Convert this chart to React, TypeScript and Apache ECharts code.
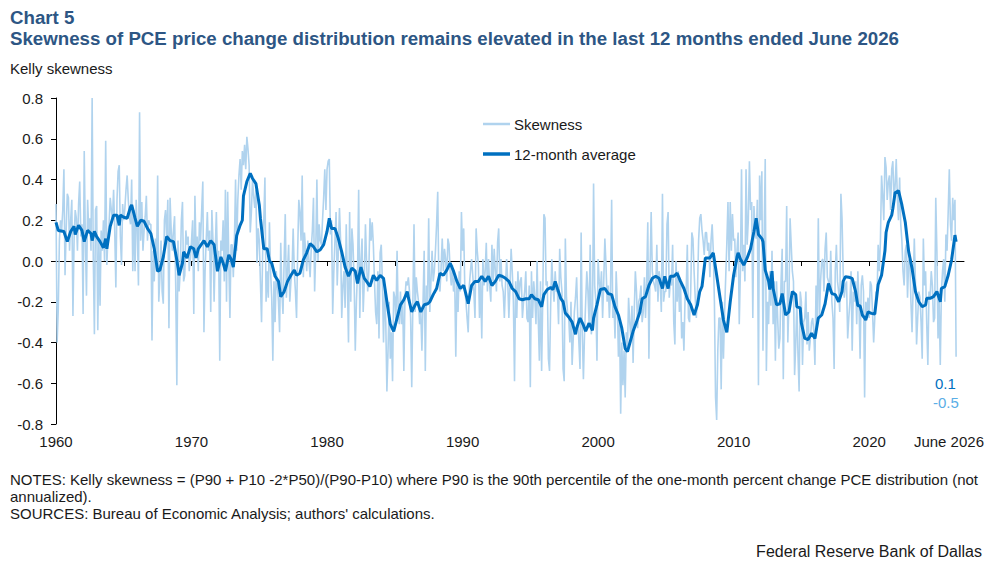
import React, { useEffect, useRef } from "react";
import * as echarts from "echarts";

const FONT = "'Liberation Sans', Arial, Helvetica, sans-serif";

// Monthly Kelly skewness, Jan 1960 .. Jun 2026 (one row per year)
const skewness: number[] = [
  0.28, -0.4, -0.24, 0.1, 0.2, 0.15, 0.25, 0.45, -0.07, 0.15, 0.33, 0.31, // 1960
  0.05, 0.2, 0.3, -0.27, 0.1, 0.25, 0.21, 0.05, 0.28, 0.39, 0.12, 0.18, // 1961
  -0.26, 0.54, 0.1, -0.17, 0.3, 0.15, 0.21, 0.05, 0.8, 0.02, -0.36, 0.25, // 1962
  0.27, -0.34, 0.1, -0.22, 0.15, 0.05, 0.2, 0.0, 0.59, -0.02, 0.12, 0.18, // 1963
  0.31, 0.25, 0.2, 0.35, 0.15, -0.13, 0.3, 0.44, 0.47, 0.12, -0.02, 0.28, // 1964
  0.2, 0.26, 0.35, 0.42, 0.3, 0.22, 0.18, 0.4, -0.05, 0.25, -0.05, 0.3, // 1965
  0.15, -0.12, 0.73, 0.1, 0.29, 0.05, 0.15, 0.22, 0.32, 0.1, 0.2, 0.18, // 1966
  0.18, -0.39, 0.05, -0.1, 0.11, -0.05, 0.42, -0.2, -0.08, 0.1, -0.15, -0.21, // 1967
  0.2, 0.25, 0.11, 0.3, -0.33, 0.31, 0.15, 0.05, 0.15, 0.22, -0.12, -0.61, // 1968
  0.1, -0.15, -0.05, 0.2, 0.29, -0.1, -0.07, 0.15, 0.08, 0.12, -0.05, 0.01, // 1969
  0.1, 0.2, -0.26, 0.32, 0.05, 0.12, -0.05, 0.19, 0.1, 0.25, 0.39, -0.35, // 1970
  -0.05, 0.1, 0.24, 0.05, 0.15, -0.25, 0.25, 0.1, -0.2, 0.05, 0.24, -0.02, // 1971
  0.05, -0.49, 0.1, 0.05, 0.2, -0.1, 0.35, -0.2, 0.34, 0.0, -0.28, 0.08, // 1972
  0.08, -0.08, 0.1, 0.4, 0.05, 0.3, 0.42, 0.5, 0.35, 0.54, 0.47, 0.57, // 1973
  0.45, 0.61, 0.55, 0.47, 0.14, 0.24, 0.4, 0.32, 0.26, 0.35, -0.01, 0.16, // 1974
  0.1, -0.1, -0.3, 0.05, 0.2, 0.41, -0.2, -0.05, -0.18, 0.19, -0.05, -0.18, // 1975
  -0.49, -0.1, -0.3, -0.05, -0.12, -0.2, -0.35, 0.09, -0.15, -0.26, 0.0, 0.23, // 1976
  -0.18, -0.05, 0.08, -0.2, -0.1, -0.05, 0.16, -0.05, -0.15, -0.28, 0.05, 0.3, // 1977
  0.24, 0.1, 0.42, -0.08, 0.14, 0.05, -0.05, 0.1, 0.0, -0.08, 0.06, 0.15, // 1978
  0.31, -0.15, 0.05, 0.4, 0.0, 0.18, 0.1, 0.08, 0.2, 0.31, 0.45, 0.25, // 1979
  0.45, 0.49, 0.5, 0.13, 0.2, -0.26, -0.05, 0.1, 0.24, -0.12, 0.05, 0.26, // 1980
  0.1, -0.28, -0.12, -0.05, -0.23, 0.18, -0.1, -0.4, 0.24, -0.2, 0.16, 0.08, // 1981
  -0.1, -0.44, -0.2, -0.05, 0.35, -0.28, 0.0, 0.11, -0.25, -0.1, 0.18, 0.0, // 1982
  -0.15, -0.05, 0.21, 0.1, 0.19, 0.08, -0.1, -0.25, -0.31, -0.05, -0.38, 0.04, // 1983
  0.08, -0.1, -0.4, -0.15, -0.3, -0.64, -0.44, -0.2, -0.48, -0.35, -0.59, -0.15, // 1984
  -0.18, -0.3, 0.05, -0.25, -0.31, -0.15, -0.31, -0.2, -0.54, -0.18, -0.1, -0.12, // 1985
  -0.08, -0.15, -0.28, -0.62, -0.2, 0.18, -0.25, -0.08, -0.15, -0.2, -0.31, -0.25, // 1986
  -0.44, -0.2, 0.05, -0.54, -0.12, -0.2, 0.21, -0.25, -0.1, 0.05, -0.1, -0.05, // 1987
  0.05, 0.18, 0.34, -0.1, -0.15, -0.03, 0.11, -0.05, 0.06, 0.01, -0.1, 0.11, // 1988
  0.08, -0.05, -0.12, -0.02, -0.15, -0.08, -0.47, -0.1, -0.25, -0.05, -0.15, 0.24, // 1989
  0.05, 0.16, -0.14, -0.2, -0.28, -0.35, -0.12, -0.05, 0.01, -0.07, -0.15, -0.28, // 1990
  0.16, 0.05, -0.02, -0.28, -0.1, -0.38, 0.01, -0.12, -0.05, 0.09, -0.15, 0.01, // 1991
  -0.12, -0.2, 0.08, -0.1, 0.06, -0.05, -0.15, 0.09, 0.16, -0.1, 0.01, -0.12, // 1992
  -0.15, -0.28, -0.12, 0.01, -0.1, -0.28, -0.12, 0.06, -0.05, -0.2, -0.59, -0.1, // 1993
  -0.28, -0.05, -0.18, -0.1, -0.08, -0.28, -0.2, -0.15, -0.05, -0.28, -0.3, -0.12, // 1994
  -0.62, -0.05, -0.28, -0.1, -0.18, -0.31, 0.0, -0.28, -0.49, -0.1, -0.54, -0.18, // 1995
  0.23, 0.21, -0.12, -0.1, -0.48, -0.54, -0.22, 0.01, -0.12, -0.2, -0.05, -0.15, // 1996
  -0.15, -0.31, 0.06, -0.08, -0.15, -0.53, -0.59, 0.11, -0.18, -0.25, -0.28, -0.4, // 1997
  -0.2, -0.51, -0.38, -0.25, -0.18, -0.08, -0.28, -0.4, -0.53, 0.14, -0.35, -0.58, // 1998
  -0.36, -0.2, -0.05, -0.15, -0.3, 0.08, -0.36, -0.3, 0.38, -0.12, -0.2, -0.49, // 1999
  0.01, -0.1, -0.15, -0.05, -0.28, -0.1, 0.11, -0.02, -0.2, -0.12, -0.28, -0.15, // 2000
  0.3, -0.28, -0.2, -0.38, -0.05, -0.2, -0.47, -0.3, -0.75, -0.4, -0.61, -0.44, // 2001
  -0.67, -0.35, -0.44, -0.18, -0.3, -0.38, -0.22, -0.5, -0.25, -0.05, -0.15, -0.33, // 2002
  -0.2, -0.18, -0.12, -0.3, -0.25, -0.08, -0.28, -0.1, 0.19, -0.48, -0.05, 0.24, // 2003
  -0.05, -0.1, -0.12, -0.15, 0.08, -0.2, -0.05, -0.1, -0.25, 0.33, -0.2, -0.15, // 2004
  -0.15, 0.18, 0.24, -0.18, -0.1, -0.12, 0.08, -0.3, -0.41, 0.0, -0.2, -0.05, // 2005
  -0.25, -0.1, -0.38, -0.3, -0.44, -0.18, -0.15, 0.08, -0.28, -0.3, -0.15, 0.14, // 2006
  0.11, -0.05, -0.18, -0.28, -0.15, 0.1, 0.21, 0.23, 0.15, 0.1, 0.03, 0.14, // 2007
  0.14, 0.05, 0.09, -0.08, 0.1, 0.18, 0.05, -0.2, -0.67, -0.78, -0.44, -0.28, // 2008
  -0.28, -0.63, -0.2, -0.48, -0.25, -0.08, 0.09, 0.29, -0.05, 0.29, 0.05, 0.23, // 2009
  0.1, 0.11, -0.08, 0.05, 0.14, -0.31, -0.05, 0.45, -0.05, 0.08, -0.1, 0.45, // 2010
  0.08, 0.2, 0.49, 0.25, 0.29, -0.28, 0.27, 0.15, 0.11, 0.3, -0.61, 0.42, // 2011
  0.2, 0.44, -0.44, 0.1, 0.5, -0.54, -0.2, -0.31, -0.05, -0.22, 0.05, -0.31, // 2012
  -0.1, -0.49, -0.1, -0.28, -0.43, -0.38, -0.1, 0.06, -0.58, -0.1, -0.1, 0.27, // 2013
  -0.4, -0.2, 0.21, 0.08, -0.05, -0.1, -0.56, -0.41, -0.2, -0.46, -0.64, -0.15, // 2014
  -0.2, -0.51, -0.3, -0.28, -0.15, -0.41, -0.25, -0.44, -0.38, -0.3, -0.28, -0.35, // 2015
  -0.51, -0.12, -0.3, 0.21, -0.28, -0.1, 0.0, 0.01, -0.15, 0.06, 0.14, -0.08, // 2016
  -0.1, -0.15, 0.05, -0.2, -0.28, -0.53, -0.05, 0.08, -0.1, -0.15, -0.25, 0.33, // 2017
  0.21, -0.05, -0.18, -0.12, -0.1, -0.38, -0.28, -0.2, -0.05, -0.44, -0.15, -0.2, // 2018
  -0.1, -0.31, -0.05, -0.2, -0.48, -0.12, -0.07, -0.15, -0.67, -0.2, -0.25, -0.18, // 2019
  -0.28, -0.1, -0.12, -0.25, -0.4, -0.28, -0.15, -0.18, 0.08, -0.05, 0.1, 0.42, // 2020
  0.32, 0.2, 0.51, 0.46, 0.3, 0.39, 0.42, 0.25, 0.45, 0.49, 0.3, 0.37, // 2021
  0.5, 0.31, 0.2, 0.41, 0.18, 0.1, -0.05, -0.12, 0.05, 0.08, -0.18, 0.0, // 2022
  0.01, -0.2, -0.35, -0.12, 0.11, -0.1, -0.41, -0.28, -0.15, -0.18, -0.3, -0.48, // 2023
  0.11, -0.12, -0.05, -0.31, -0.51, -0.15, -0.18, -0.05, -0.12, -0.3, -0.28, 0.31, // 2024
  0.05, -0.38, -0.2, -0.51, -0.15, -0.05, 0.01, -0.2, 0.13, 0.05, 0.24, 0.45, // 2025
  0.18, 0.1, 0.31, 0.2, 0.3, -0.47, // 2026 (Jan-Jun)
];

// 12-month average, read at the months (0 = Jan 1960) where it could be read
const avgMonths: number[] = [
  0, 2, 7, 10, 13, 16, 17, 20, 23, 25, 28, 31, 32, 34, 36, 39, 42, 44, 45, 48,
  51, 54, 56, 57, 60, 63, 66, 67, 70, 72, 75, 78, 81, 84, 87, 90, 92, 95, 98, 101,
  104, 107, 109, 112, 113, 116, 119, 122, 124, 126, 131, 134, 137, 140, 143, 146, 148, 150, 153, 155,
  157, 160, 163, 165, 166, 169, 172, 174, 177, 180, 181, 184, 187, 189, 191, 194, 197, 199, 202, 205,
  208, 211, 213, 216, 219, 222, 225, 228, 231, 234, 237, 240, 242, 244, 247, 250, 253, 256, 259, 262,
  265, 267, 270, 273, 275, 278, 281, 284, 287, 290, 293, 296, 299, 302, 305, 308, 311, 312, 315, 318,
  320, 323, 326, 329, 331, 334, 337, 340, 343, 346, 349, 352, 355, 358, 361, 364, 365, 368, 371, 374,
  377, 380, 383, 386, 389, 392, 395, 398, 401, 404, 407, 410, 413, 416, 419, 421, 424, 427, 430, 432,
  435, 438, 440, 442, 444, 447, 449, 451, 454, 457, 460, 461, 464, 467, 469, 472, 475, 476, 479, 482,
  486, 489, 492, 495, 498, 501, 504, 506, 508, 511, 514, 517, 519, 522, 525, 528, 531, 534, 537, 539,
  542, 544, 547, 550, 553, 556, 559, 562, 565, 568, 570, 572, 575, 579, 582, 585, 588, 591, 594, 597,
  600, 603, 604, 606, 609, 612, 615, 618, 620, 622, 625, 626, 628, 631, 632, 634, 635, 638, 641, 643,
  646, 649, 652, 655, 656, 659, 660, 663, 666, 669, 672, 675, 678, 681, 684, 687, 690, 693, 696, 697,
  699, 702, 705, 708, 710, 712, 714, 716, 717, 719, 722, 725, 728, 731, 734, 735, 737, 740, 741, 743,
  746, 749, 752, 755, 758, 761, 764, 767, 770, 771, 774, 777, 780, 783, 784, 787, 790, 793, 796, 797,
];

const avgValues: number[] = [
  0.19, 0.15, 0.145, 0.095, 0.145, 0.17, 0.13, 0.175, 0.15, 0.095, 0.15, 0.135, 0.1, 0.145, 0.12, 0.095, 0.065, 0.11, 0.06, 0.17,
  0.225, 0.225, 0.175, 0.225, 0.215, 0.21, 0.265, 0.275, 0.21, 0.17, 0.2, 0.195, 0.16, 0.135, 0.06, -0.05, -0.045, 0.02, 0.12, 0.1,
  0.095, 0.005, -0.07, -0.01, 0.045, 0.015, 0.07, 0.06, 0.015, 0.06, 0.1, 0.07, 0.1, 0.08, -0.05, 0.02, -0.01, -0.05, 0.03, 0.01,
  -0.03, 0.125, 0.175, 0.2, 0.32, 0.39, 0.43, 0.405, 0.38, 0.275, 0.21, 0.06, 0.06, 0.0, -0.01, -0.075, -0.1, -0.175, -0.15, -0.1,
  -0.07, -0.045, -0.07, -0.06, 0.005, 0.04, 0.085, 0.07, 0.045, 0.055, 0.08, 0.145, 0.21, 0.16, 0.16, 0.11, 0.045, -0.03, -0.075, -0.035,
  -0.05, -0.11, -0.03, -0.085, -0.1, -0.125, -0.07, -0.095, -0.07, -0.085, -0.2, -0.31, -0.345, -0.28, -0.215, -0.19, -0.15, -0.18, -0.25, -0.215,
  -0.2, -0.25, -0.215, -0.21, -0.2, -0.165, -0.135, -0.06, -0.07, -0.045, -0.01, -0.05, -0.1, -0.135, -0.12, -0.185, -0.21, -0.12, -0.1, -0.1,
  -0.075, -0.1, -0.075, -0.12, -0.1, -0.07, -0.075, -0.085, -0.1, -0.135, -0.15, -0.185, -0.19, -0.185, -0.185, -0.165, -0.185, -0.19, -0.225, -0.165,
  -0.14, -0.13, -0.14, -0.1, -0.135, -0.185, -0.2, -0.255, -0.275, -0.3, -0.36, -0.33, -0.28, -0.315, -0.345, -0.305, -0.34, -0.28, -0.215, -0.14,
  -0.135, -0.16, -0.165, -0.225, -0.265, -0.33, -0.43, -0.445, -0.405, -0.345, -0.3, -0.25, -0.185, -0.175, -0.12, -0.085, -0.075, -0.085, -0.135, -0.075,
  -0.135, -0.075, -0.075, -0.06, -0.1, -0.135, -0.185, -0.215, -0.265, -0.215, -0.15, -0.125, 0.015, 0.015, 0.04, -0.07, -0.18, -0.29, -0.35, -0.2,
  -0.07, 0.02, 0.04, 0.01, -0.02, 0.015, 0.06, 0.145, 0.21, 0.13, 0.11, 0.095, -0.045, -0.1, -0.14, -0.05, -0.135, -0.215, -0.21, -0.16,
  -0.265, -0.25, -0.15, -0.165, -0.225, -0.23, -0.305, -0.38, -0.385, -0.355, -0.38, -0.28, -0.265, -0.21, -0.11, -0.16, -0.165, -0.2, -0.15, -0.1,
  -0.077, -0.08, -0.085, -0.15, -0.22, -0.22, -0.265, -0.28, -0.29, -0.25, -0.257, -0.26, -0.115, -0.07, 0.05, 0.14, 0.19, 0.225, 0.258, 0.335,
  0.345, 0.275, 0.19, 0.046, -0.036, -0.15, -0.2, -0.224, -0.216, -0.183, -0.183, -0.175, -0.15, -0.2, -0.134, -0.126, -0.07, 0.005, 0.127, 0.095,
];

const xTickMonths: number[] = [60, 120, 180, 240, 300, 360, 420, 480, 540, 600, 660, 720, 780];
const xLabelMonths: number[] = [0, 120, 240, 360, 480, 600, 720];
const startYear = 1960;
const endLabel = "June 2026";

const seriesNames: string[] = ["Skewness", "12-month average"];
const titleLine1 = "Chart 5";
const titleLine2 =
  "Skewness of PCE price change distribution remains elevated in the last 12 months ended June 2026";
const yAxisTitle = "Kelly skewness";
const notes: string[] = [
  "NOTES: Kelly skewness = (P90 + P10 -2*P50)/(P90-P10) where P90 is the 90th percentile of the one-month percent change PCE distribution (not",
  "annualized).",
  "SOURCES: Bureau of Economic Analysis; authors' calculations.",
];
const credit = "Federal Reserve Bank of Dallas";

const LIGHT = "#b0d3ee";
const DARK = "#0070c0";
const TITLE = "#2d5684";
const TEXT = "#1a1a1a";

export default function App() {
  const ref = useRef<HTMLDivElement>(null);

  useEffect(() => {
    if (!ref.current) return;
    const chart = echarts.init(ref.current, null, { renderer: "svg" });

    const skewData = skewness.map((v, i) => [i, v]);
    const avgData = avgMonths.map((m, i) => [m, avgValues[i]]);
    const lastAvg = avgValues[avgValues.length - 1];
    const lastSkew = skewness[skewness.length - 1];

    const txt = (
      text: string,
      x: number,
      y: number,
      opts: { size?: number; weight?: string; fill?: string; align?: string } = {}
    ) => ({
      type: "text",
      x,
      y,
      silent: true,
      style: {
        text,
        fontFamily: FONT,
        fontSize: opts.size ?? 15,
        fontWeight: opts.weight ?? "normal",
        fill: opts.fill ?? TEXT,
        align: opts.align ?? "left",
        verticalAlign: "middle",
      },
    });

    const legendLine = (y: number, color: string, width: number) => ({
      type: "line",
      silent: true,
      shape: { x1: 483, y1: y, x2: 510, y2: y },
      style: { stroke: color, lineWidth: width },
    });

    const option: any = {
      animation: false,
      backgroundColor: "#ffffff",
      textStyle: { fontFamily: FONT },
      grid: { left: 56, top: 98, width: 908, height: 326, containLabel: false },
      xAxis: [
        {
          type: "value",
          min: 0,
          max: 804,
          axisLine: { show: true, onZero: true, lineStyle: { color: "#000", width: 1 } },
          axisTick: { show: true, length: 5, customValues: xTickMonths, lineStyle: { color: "#000" } },
          axisLabel: { show: false },
          splitLine: { show: false },
        },
        {
          type: "value",
          position: "bottom",
          min: 0,
          max: 804,
          axisLine: { show: false, onZero: false },
          axisTick: { show: false },
          splitLine: { show: false },
          axisLabel: {
            show: true,
            customValues: xLabelMonths,
            formatter: (v: number) => String(startYear + Math.round(v / 12)),
            fontFamily: FONT,
            fontSize: 15,
            color: TEXT,
            margin: 10,
          },
        },
      ],
      yAxis: {
        type: "value",
        min: -0.8,
        max: 0.8,
        interval: 0.2,
        axisLine: { show: true, lineStyle: { color: "#000", width: 1 } },
        axisTick: { show: true, length: 5, lineStyle: { color: "#000" } },
        splitLine: { show: false },
        axisLabel: {
          fontFamily: FONT,
          fontSize: 15,
          color: TEXT,
          margin: 13,
          formatter: (v: number) => (Math.abs(v) < 1e-9 ? "0.0" : v.toFixed(1)),
        },
      },
      series: [
        {
          name: seriesNames[0],
          type: "line",
          xAxisIndex: 0,
          data: skewData,
          symbol: "none",
          showSymbol: false,
          lineStyle: { color: LIGHT, width: 1.6 },
          itemStyle: { color: LIGHT },
          z: 2,
          silent: true,
        },
        {
          name: seriesNames[1],
          type: "line",
          xAxisIndex: 0,
          data: avgData,
          symbol: "none",
          showSymbol: false,
          lineStyle: { color: DARK, width: 3 },
          itemStyle: { color: DARK },
          z: 3,
          silent: true,
        },
      ],
      graphic: [
        txt(titleLine1, 10, 17, { size: 18.7, weight: "bold", fill: TITLE }),
        txt(titleLine2, 10, 38, { size: 18.7, weight: "bold", fill: TITLE }),
        txt(yAxisTitle, 10, 68, { size: 15 }),
        legendLine(124, LIGHT, 2.5),
        txt(seriesNames[0], 514, 124, { size: 15 }),
        legendLine(154, DARK, 3.5),
        txt(seriesNames[1], 514, 154, { size: 15 }),
        txt(endLabel, 984, 441, { size: 15, align: "right" }),
        txt(lastAvg.toFixed(1), 935, 383, { size: 15, fill: DARK }),
        txt(lastSkew.toFixed(1), 933, 402, { size: 15, fill: "#5aaee6" }),
        txt(notes[0], 10, 479, { size: 15 }),
        txt(notes[1], 10, 496, { size: 15 }),
        txt(notes[2], 10, 513, { size: 15 }),
        txt(credit, 982, 551, { size: 16, align: "right" }),
      ],
    };

    chart.setOption(option);
    return () => chart.dispose();
  }, []);

  return (
    <div
      ref={ref}
      style={{ position: "absolute", left: 0, top: 0, width: 997, height: 565 }}
    />
  );
}
